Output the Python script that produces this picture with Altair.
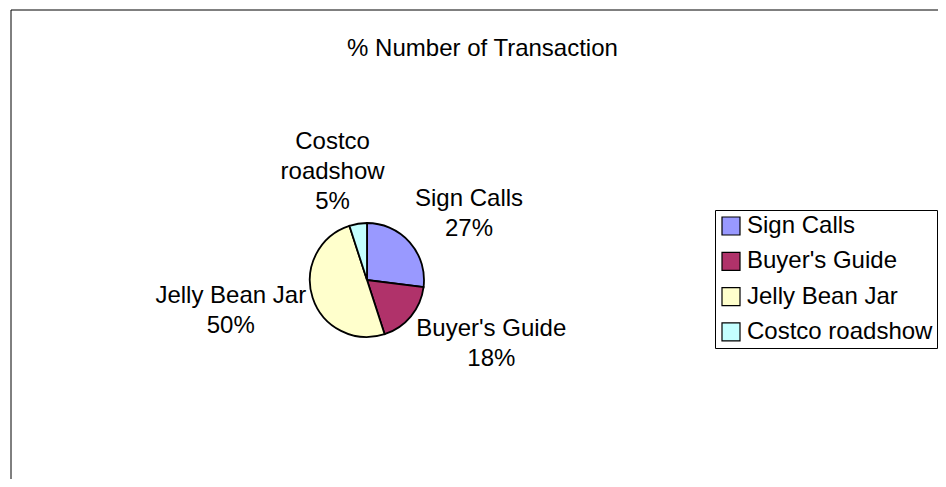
import altair as alt
import pandas as pd

# ---- data -------------------------------------------------------------
title_text = "% Number of Transaction"
categories = ["Sign Calls", "Buyer's Guide", "Jelly Bean Jar", "Costco roadshow"]
label_texts = ["Sign Calls", "Buyer's Guide", "Jelly Bean Jar", "Costco\nroadshow"]
values = [27, 18, 50, 5]
colors = ["#9999FF", "#B0326A", "#FFFFCC", "#C4FFFF"]

# ---- layout -----------------------------------------------------------
W, H = 930, 471
CX, CY, R = 359, 272, 57
GAP = 7
FONT = "Liberation Sans"
FS = 24
LH = 30

# Arial / Liberation Sans advance widths (per 1000 em) to size label boxes
ADV = {" ": 278, "'": 191, "%": 889, "B": 667, "C": 722, "G": 778, "J": 500,
       "S": 667, "a": 556, "c": 500, "d": 556, "e": 556, "g": 556, "h": 556,
       "i": 222, "l": 222, "n": 556, "o": 556, "r": 333, "s": 500, "t": 278,
       "u": 556, "w": 722, "y": 500}


def text_width(s):
    return max(sum(ADV.get(ch, 556) for ch in line) for line in s.split("\n")) * FS / 1000.0


df = pd.DataFrame({
    "category": categories,
    "label": label_texts,
    "value": values,
    "order": list(range(len(categories))),
    "lw": [text_width(t) for t in label_texts],
    "nl": [t.count("\n") + 2 for t in label_texts],
})

base = alt.Chart(df)

pie = base.mark_arc(radius=R, stroke="black", strokeWidth=1.8).encode(
    theta=alt.Theta("value:Q", stack=True),
    order=alt.Order("order:Q"),
    color=alt.Color(
        "category:N",
        scale=alt.Scale(domain=categories, range=colors),
        legend=alt.Legend(
            orient="none", legendX=707, legendY=202, title=None,
            symbolType="square", symbolSize=324, symbolStrokeColor="black",
            symbolStrokeWidth=1.2, labelFontSize=FS, labelFont=FONT,
            labelColor="black", labelOffset=4, rowPadding=11.3, labelLimit=400,
            strokeColor="black", fillColor="white", padding=4,
        ),
    ),
    x=alt.value(CX),
    y=alt.value(CY),
)

lab = base.transform_joinaggregate(total="sum(value)").transform_window(
    cum="sum(value)", sort=[alt.SortField("order")], frame=[None, 0]
).transform_calculate(
    mid="2*PI*(datum.cum - datum.value/2)/datum.total",
).transform_calculate(
    s="sin(datum.mid)",
    c="cos(datum.mid)",
).transform_calculate(
    bx=f"{CX} + {R + GAP}*datum.s + datum.lw/2*clamp(3*datum.s, -1, 1)",
    by=f"{CY} - {R + GAP}*datum.c - datum.nl*{LH}/2*clamp(1.2*datum.c, -1, 1)",
    txt="datum.label + '\\n' + round(100*datum.value/datum.total) + '%'",
).transform_calculate(
    ty=f"datum.by - (datum.nl - 1)*{LH}/2",
)

labels = lab.mark_text(
    align="center", baseline="middle", lineBreak="\n", lineHeight=LH,
    fontSize=FS, font=FONT, color="black",
).encode(
    x=alt.X("bx:Q", scale=None, axis=None),
    y=alt.Y("ty:Q", scale=None, axis=None),
    text="txt:N",
)

frame_df = pd.DataFrame({"k": [0]})
border_top = alt.Chart(frame_df).mark_rule(color="black", strokeWidth=1).encode(
    x=alt.value(3), x2=alt.value(W), y=alt.value(2)
)
border_left = alt.Chart(frame_df).mark_rule(color="black", strokeWidth=1).encode(
    x=alt.value(3), y=alt.value(2), y2=alt.value(H)
)
title = alt.Chart(frame_df).mark_text(
    fontSize=24, font=FONT, color="black", align="center", baseline="alphabetic"
).encode(x=alt.value(474.5), y=alt.value(48), text=alt.value(title_text))

chart = alt.layer(border_top, border_left, title, pie, labels).properties(
    width=W, height=H, padding=0,
    autosize=alt.AutoSizeParams(type="none"),
    background="white",
).configure_view(stroke=None)

chart.save("out.html", embed_options={"renderer": "svg", "actions": False})
